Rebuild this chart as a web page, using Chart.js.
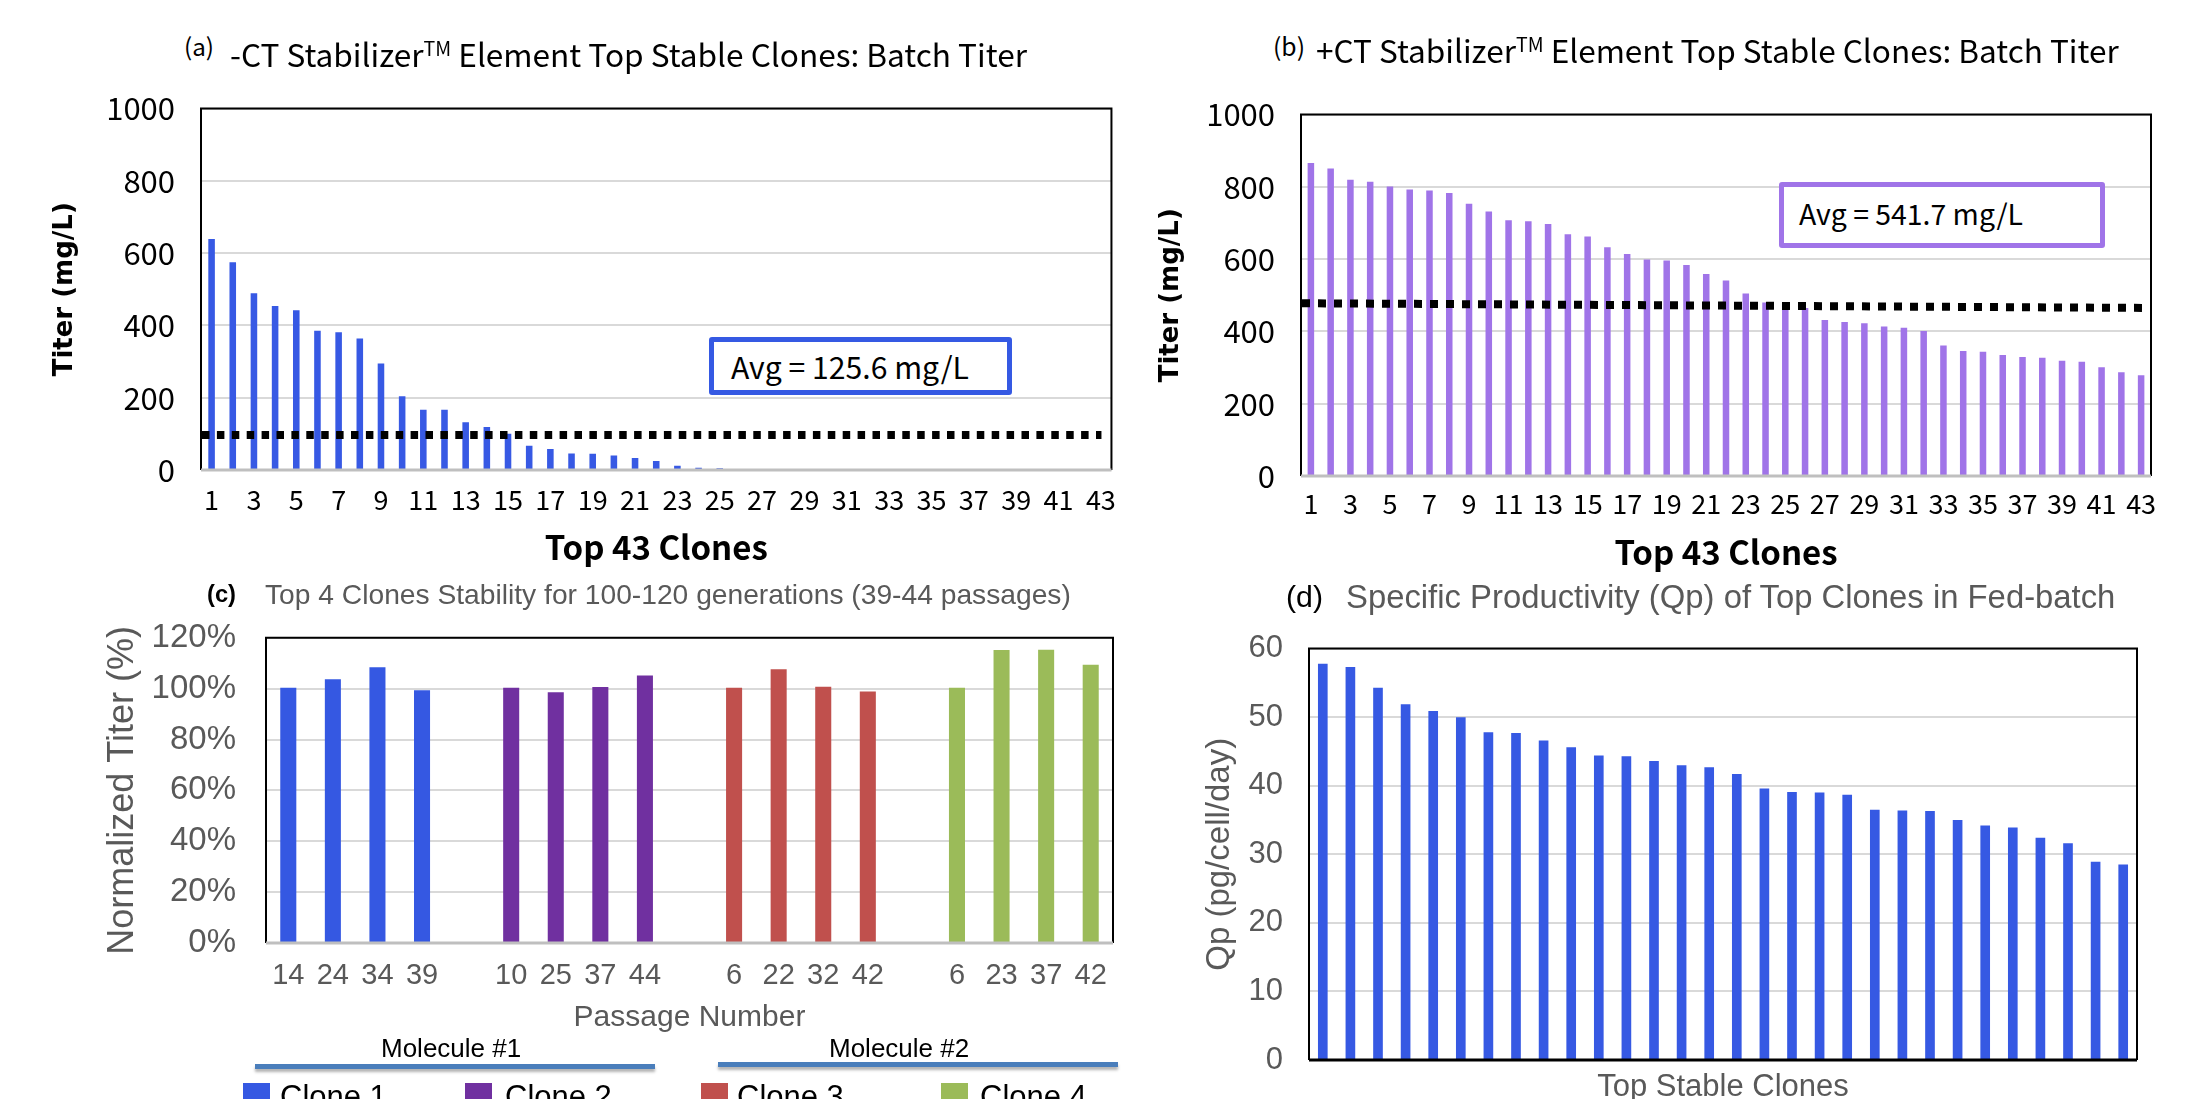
<!DOCTYPE html>
<html>
<head>
<meta charset="utf-8">
<script src="https://cdn.jsdelivr.net/npm/chart.js@4.4.0/dist/chart.umd.min.js"></script>
<style>
  html, body { margin: 0; padding: 0; background: #fff; overflow: hidden; }
  #page { position: relative; width: 2203px; height: 1099px; overflow: hidden; background: #fff; }
  .box { position: absolute; }
  .txt { position: absolute; white-space: nowrap; }
  .cjk { font-family: "Noto Sans CJK SC", "Noto Sans", sans-serif; }
  .ars { font-family: "Liberation Sans", Arial, sans-serif; }
  .avg { position: absolute; box-sizing: border-box; border-radius: 3px; background: #fff; }
  .mline { position: absolute; height: 5px; background: #4a7ebb; box-shadow: 0 3px 3px rgba(0,0,0,0.3); }
  .sq { position: absolute; width: 27px; height: 27px; }
  sup { font-size: 0.62em; vertical-align: 0.55em; line-height: 0; }
</style>
</head>
<body>
<div id="page">
  <div class="box" style="left:30px;top:64px;width:1100px;height:511px"><canvas id="chartA"></canvas></div>
  <div class="box" style="left:1140px;top:70px;width:1063px;height:510px"><canvas id="chartB"></canvas></div>
  <div class="box" style="left:60px;top:588px;width:1070px;height:465px"><canvas id="chartC"></canvas></div>
  <div class="box" style="left:1140px;top:604px;width:1063px;height:506px"><canvas id="chartD"></canvas></div>

  <!-- panel titles -->
  <div class="txt cjk fit" data-w="30" style="left:184px;top:28px;height:36px;line-height:36px;font-size:22px;color:#000">(a)</div>
  <div class="txt cjk fit" data-w="797" style="left:230px;top:33px;height:40px;line-height:40px;font-size:28px;color:#000">-CT Stabilizer<sup>TM</sup> Element Top Stable Clones: Batch Titer</div>
  <div class="txt cjk fit" data-w="32" style="left:1273px;top:27px;height:36px;line-height:36px;font-size:22px;color:#000">(b)</div>
  <div class="txt cjk fit" data-w="803" style="left:1316px;top:29px;height:40px;line-height:40px;font-size:28px;color:#000">+CT Stabilizer<sup>TM</sup> Element Top Stable Clones: Batch Titer</div>

  <div class="txt ars fit" data-w="29" style="left:207px;top:576px;height:36px;line-height:36px;font-size:24px;font-weight:bold;color:#000">(c)</div>
  <div class="txt ars fit" data-w="806" style="left:265px;top:576px;height:36px;line-height:36px;font-size:26px;color:#595959">Top 4 Clones Stability for 100-120 generations (39-44 passages)</div>
  <div class="txt ars fit" data-w="37" style="left:1286px;top:579px;height:36px;line-height:36px;font-size:24px;color:#000">(d)</div>
  <div class="txt ars fit" data-w="770" style="left:1346px;top:579px;height:36px;line-height:36px;font-size:26px;color:#595959">Specific Productivity (Qp) of Top Clones in Fed-batch</div>

  <!-- average boxes -->
  <div class="avg" style="left:709px;top:337px;width:303px;height:58px;border:5px solid #3559e3"></div>
  <div class="txt cjk fit" data-w="238" style="left:731px;top:346px;height:40px;line-height:40px;font-size:26px;color:#000">Avg = 125.6 mg/L</div>
  <div class="avg" style="left:1779px;top:182px;width:326px;height:66px;border:5px solid #a074e8"></div>
  <div class="txt cjk fit" data-w="224" style="left:1799px;top:193px;height:40px;line-height:40px;font-size:26px;color:#000">Avg = 541.7 mg/L</div>

  <!-- molecule groups + legend for (c) -->
  <div class="txt ars" style="left:381px;top:1032px;height:32px;line-height:32px;font-size:26px;color:#000">Molecule #1</div>
  <div class="mline" style="left:255px;top:1064px;width:400px"></div>
  <div class="txt ars" style="left:829px;top:1032px;height:32px;line-height:32px;font-size:26px;color:#000">Molecule #2</div>
  <div class="mline" style="left:718px;top:1062px;width:400px"></div>
  <div id="legendC"></div>
</div>

<script>
// ---- data ----
const cloneLabels = ['1','2','3','4','5','6','7','8','9','10','11','12','13','14','15','16','17','18','19','20',
  '21','22','23','24','25','26','27','28','29','30','31','32','33','34','35','36','37','38','39','40','41','42','43'];

// (a) -CT stabilizer, batch titer (mg/L)
const titerMinusCT = [639, 575, 489, 454, 442, 385, 381, 364, 295, 204, 167, 167, 132, 119, 100, 67, 58, 46, 45, 40,
  33, 25, 12, 6, 5, 2, 2, 2, 2, 2, 2, 2, 2, 2, 2, 2, 2, 2, 2, 2, 2, 2, 2];
const avgLineA = [97, 97];

// (b) +CT stabilizer, batch titer (mg/L)
const titerPlusCT = [866, 851, 820, 814, 801, 793, 790, 783, 753, 732, 708, 705, 697, 669, 663, 633, 614, 599, 596, 584,
  559, 541, 505, 480, 476, 465, 432, 426, 423, 414, 410, 401, 361, 346, 344, 335, 329, 327, 319, 316, 301, 287, 279];
const avgLineB = [478, 465];

// (c) stability, normalized titer (%)
const clone1Passages = ['14', '24', '34', '39'];
const clone1Titer = [100.4, 103.7, 108.4, 99.4];
const clone2Passages = ['10', '25', '37', '44'];
const clone2Titer = [100.4, 98.6, 100.7, 105.2];
const clone3Passages = ['6', '22', '32', '42'];
const clone3Titer = [100.4, 107.6, 100.8, 98.9];
const clone4Passages = ['6', '23', '37', '42'];
const clone4Titer = [100.4, 115.2, 115.3, 109.4];
const cloneNames = ['Clone 1', 'Clone 2', 'Clone 3', 'Clone 4'];
const cloneColors = ['#3558e2', '#7030a0', '#c0504d', '#9bbb59'];

// (d) specific productivity (pg/cell/day)
const qpClones = ['1','2','3','4','5','6','7','8','9','10','11','12','13','14','15','16','17','18','19','20',
  '21','22','23','24','25','26','27','28','29','30'];
const qpValues = [57.8, 57.3, 54.3, 51.9, 50.9, 50.0, 47.8, 47.7, 46.6, 45.6, 44.4, 44.3, 43.6, 43.0, 42.7, 41.7,
  39.6, 39.1, 39.0, 38.7, 36.5, 36.4, 36.3, 35.0, 34.2, 33.9, 32.4, 31.6, 28.9, 28.5];

// ---- helpers ----
document.querySelectorAll('.fit').forEach(el => {
  const target = +el.dataset.w;
  const size = parseFloat(el.style.fontSize);
  const w = el.getBoundingClientRect().width;
  if (w > 0) el.style.fontSize = (size * target / w).toFixed(2) + 'px';
});

const CJK = '"Noto Sans CJK SC", "Noto Sans", sans-serif';
const ARS = '"Liberation Sans", Arial, sans-serif';
Chart.defaults.animation = false;
Chart.defaults.responsive = true;
Chart.defaults.maintainAspectRatio = false;
Chart.defaults.devicePixelRatio = 1;
Chart.defaults.plugins.legend.display = false;
Chart.defaults.plugins.tooltip.enabled = false;

const framePlugin = {
  id: 'frame',
  afterDatasetsDraw(chart, args, opts) {
    const {ctx, chartArea: a} = chart;
    ctx.save();
    ctx.strokeStyle = '#000';
    ctx.lineWidth = opts.width || 2;
    ctx.beginPath();
    ctx.moveTo(a.left, a.bottom);
    ctx.lineTo(a.left, a.top);
    ctx.lineTo(a.right, a.top);
    ctx.lineTo(a.right, a.bottom);
    ctx.stroke();
    ctx.strokeStyle = opts.baseColor || '#bfbfbf';
    ctx.lineWidth = 3;
    ctx.beginPath();
    ctx.moveTo(a.left, a.bottom);
    ctx.lineTo(a.right, a.bottom);
    ctx.stroke();
    ctx.restore();
  }
};

const avgLinePlugin = {
  id: 'avgLine',
  afterDatasetsDraw(chart, args, opts) {
    if (!opts.values) return;
    const {ctx, chartArea: a} = chart;
    const y = chart.scales.y;
    ctx.save();
    ctx.strokeStyle = '#000';
    ctx.lineWidth = 8;
    ctx.setLineDash(opts.dash);
    ctx.beginPath();
    ctx.moveTo(a.left + 1, y.getPixelForValue(opts.values[0]));
    ctx.lineTo(a.right - opts.endGap, y.getPixelForValue(opts.values[1]));
    ctx.stroke();
    ctx.restore();
  }
};

function yAxis(o) {
  return {
    min: o.min, max: o.max,
    ticks: {stepSize: o.step, padding: o.tickPad, color: o.color, font: o.tickFont, callback: o.fmt},
    grid: {color: '#d9d9d9', lineWidth: 2, drawTicks: false},
    border: {display: false},
    title: {display: true, text: o.title, color: o.color, font: o.titleFont, padding: {top: o.titlePad}},
    afterFit: s => { s.width = o.width; }
  };
}

function xAxis(o) {
  return {
    grid: {display: false, drawTicks: false},
    border: {display: false},
    ticks: {
      display: o.showTicks, autoSkip: false, maxRotation: 0, minRotation: 0, padding: o.tickPad,
      color: o.color, font: o.tickFont,
      callback: function (v, i) { return (o.everyOther && i % 2 === 1) ? '' : this.getLabelForValue(v); }
    },
    title: {display: true, text: o.title, color: o.color, font: o.titleFont, padding: {bottom: o.titlePad}},
    afterFit: s => { s.height = o.height; }
  };
}

// (a)
new Chart(document.getElementById('chartA'), {
  type: 'bar',
  data: {labels: cloneLabels, datasets: [{data: titerMinusCT, backgroundColor: '#3759e4', barPercentage: 0.31, categoryPercentage: 1}]},
  options: {
    layout: {padding: {top: 12, right: 13, left: 0, bottom: 0}},
    scales: {
      x: xAxis({showTicks: true, everyOther: true, tickPad: 14, color: '#000', tickFont: {family: CJK, size: 27},
        title: 'Top 43 Clones', titleFont: {family: CJK, size: 33, weight: 'bold'}, titlePad: 8, height: 105}),
      y: yAxis({min: 0, max: 1000, step: 200, tickPad: 26, color: '#000', tickFont: {family: CJK, size: 31},
        title: 'Titer (mg/L)', titleFont: {family: '"DejaVu Sans", sans-serif', size: 26, weight: 'bold'}, titlePad: 20, width: 171})
    },
    plugins: {frame: {width: 2}, avgLine: {values: avgLineA, dash: [7.5, 7.4], endGap: 10}}
  },
  plugins: [framePlugin, avgLinePlugin]
});

// (b)
new Chart(document.getElementById('chartB'), {
  type: 'bar',
  data: {labels: cloneLabels, datasets: [{data: titerPlusCT, backgroundColor: '#a074e8', barPercentage: 0.33, categoryPercentage: 1}]},
  options: {
    layout: {padding: {top: 15, right: 52, left: 0, bottom: 0}},
    scales: {
      x: xAxis({showTicks: true, everyOther: true, tickPad: 12, color: '#000', tickFont: {family: CJK, size: 27},
        title: 'Top 43 Clones', titleFont: {family: CJK, size: 33, weight: 'bold'}, titlePad: 8, height: 104}),
      y: yAxis({min: 0, max: 1000, step: 200, tickPad: 26, color: '#000', tickFont: {family: CJK, size: 31},
        title: 'Titer (mg/L)', titleFont: {family: '"DejaVu Sans", sans-serif', size: 26, weight: 'bold'}, titlePad: 16, width: 161})
    },
    plugins: {frame: {width: 2}, avgLine: {values: avgLineB, dash: [8, 8], endGap: 3}}
  },
  plugins: [framePlugin, avgLinePlugin]
});

// (c) build grouped categories with an empty slot between groups
const groupPassages = [clone1Passages, clone2Passages, clone3Passages, clone4Passages];
const groupTiters = [clone1Titer, clone2Titer, clone3Titer, clone4Titer];
const stabilityLabels = [];
groupPassages.forEach((g, gi) => {
  if (gi > 0) stabilityLabels.push('');
  g.forEach(p => stabilityLabels.push(p));
});
const stabilityDatasets = groupTiters.map((vals, gi) => {
  const data = [];
  groupTiters.forEach((g, k) => {
    if (k > 0) data.push(null);
    g.forEach((v, j) => data.push(k === gi ? vals[j] : null));
  });
  return {label: cloneNames[gi], data: data, backgroundColor: cloneColors[gi], barPercentage: 0.36, categoryPercentage: 1, grouped: false};
});

new Chart(document.getElementById('chartC'), {
  type: 'bar',
  data: {labels: stabilityLabels, datasets: stabilityDatasets},
  options: {
    layout: {padding: {top: 15, right: 17, left: 0, bottom: 0}},
    scales: {
      x: xAxis({showTicks: true, everyOther: false, tickPad: 16, color: '#595959', tickFont: {family: ARS, size: 29},
        title: 'Passage Number', titleFont: {family: ARS, size: 30}, titlePad: 17, height: 110}),
      y: yAxis({min: 0, max: 120, step: 20, tickPad: 30, color: '#595959', tickFont: {family: ARS, size: 33},
        fmt: v => v + '%',
        title: 'Normalized Titer (%)', titleFont: {family: ARS, size: 36}, titlePad: 41, width: 206})
    },
    plugins: {frame: {width: 2}}
  },
  plugins: [framePlugin]
});

// legend for (c)
const legendC = document.getElementById('legendC');
const legendSq = [243, 465, 701, 941];
const legendTx = [280, 505, 737, 980];
cloneNames.forEach((n, i) => {
  const sq = document.createElement('div');
  sq.className = 'sq';
  sq.style.left = legendSq[i] + 'px';
  sq.style.top = '1083px';
  sq.style.background = cloneColors[i];
  legendC.appendChild(sq);
  const t = document.createElement('div');
  t.className = 'txt ars';
  t.style.cssText = 'left:' + legendTx[i] + 'px;top:1081px;font-size:31px;line-height:31px;color:#000';
  t.textContent = n;
  legendC.appendChild(t);
});

// (d)
new Chart(document.getElementById('chartD'), {
  type: 'bar',
  data: {labels: qpClones, datasets: [{data: qpValues, backgroundColor: '#3659e3', barPercentage: 0.35, categoryPercentage: 1}]},
  options: {
    layout: {padding: {top: 14, right: 66, left: 0, bottom: 0}},
    scales: {
      x: xAxis({showTicks: false, everyOther: false, tickPad: 0, color: '#595959', tickFont: {family: ARS, size: 20},
        title: 'Top Stable Clones', titleFont: {family: ARS, size: 31}, titlePad: 4, height: 50}),
      y: yAxis({min: 0, max: 60, step: 10, tickPad: 26, color: '#595959', tickFont: {family: ARS, size: 31},
        title: 'Qp (pg/cell/day)', titleFont: {family: ARS, size: 33}, titlePad: 60, width: 169})
    },
    plugins: {frame: {width: 2, baseColor: '#000'}}
  },
  plugins: [framePlugin]
});
</script>
</body>
</html>
